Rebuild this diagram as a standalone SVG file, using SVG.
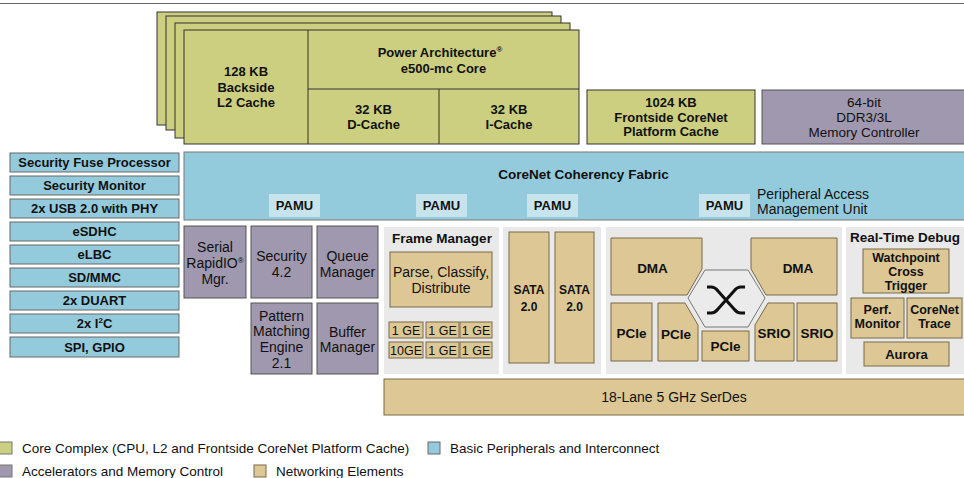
<svg xmlns="http://www.w3.org/2000/svg" width="964" height="478" viewBox="0 0 964 478">
<style>
.core{fill:#cccf7f;stroke:#333;stroke-width:1}
.blue{fill:#94cbdc;stroke:#666;stroke-width:1}
.fab{fill:#94cbdc;stroke:#777;stroke-width:1}
.pamu{fill:#c7e4ed}
.acc{fill:#a098ae;stroke:#555;stroke-width:1}
.net{fill:#dcc795;stroke:#7a6a48;stroke-width:1}
.panel{fill:#e9e9e9}
.hex{fill:#ebebeb;stroke:#777;stroke-width:1}
text{font-family:"Liberation Sans",Arial,sans-serif;fill:#111}
.b{font-weight:bold;font-size:13.5px;text-anchor:middle}
.b13{font-weight:bold;font-size:13px;text-anchor:middle}
.b125{font-weight:bold;font-size:12.5px;text-anchor:middle}
.r{font-size:14px;text-anchor:middle}
.r135{font-size:13.5px;text-anchor:middle}
.rs{font-size:14px}
.ge{font-size:12.5px;text-anchor:middle}
.sata{font-weight:bold;font-size:12px;text-anchor:middle}
.leg{font-size:13.5px}
.sup{font-size:8px}
</style>
<rect width="964" height="478" fill="#fff"/>
<line x1="0" y1="3.5" x2="964" y2="3.5" stroke="#666" stroke-width="1.2"/>

<g id="core-complex">
  <rect class="core" x="157" y="12" width="395" height="113"/>
  <rect class="core" x="166" y="16" width="395" height="114"/>
  <rect class="core" x="175" y="23" width="395" height="115"/>
  <rect class="core" x="184" y="30" width="395" height="114"/>
  <line x1="308" y1="30" x2="308" y2="144" stroke="#333"/>
  <line x1="308" y1="89" x2="579" y2="89" stroke="#333"/>
  <line x1="439" y1="89" x2="439" y2="144" stroke="#333"/>
  <g id="l2-cache">
    <text class="b13" x="246" y="76">128 KB<tspan x="246" dy="15.5">Backside</tspan><tspan x="246" dy="15.5">L2 Cache</tspan></text>
  </g>
  <g id="e500-core">
    <text class="b13" x="440" y="57">Power Architecture<tspan class="sup" dy="-5">®</tspan><tspan x="443.5" dy="21">e500-mc Core</tspan></text>
  </g>
  <g id="d-cache">
    <text class="b13" x="373.5" y="113.5">32 KB<tspan x="373.5" dy="15.5">D-Cache</tspan></text>
  </g>
  <g id="i-cache">
    <text class="b13" x="509" y="113.5">32 KB<tspan x="509" dy="15.5">I-Cache</tspan></text>
  </g>
</g>

<g id="platform-cache">
  <rect class="core" x="587" y="90" width="168" height="54"/>
  <text class="b13" x="671" y="107">1024 KB<tspan x="671" dy="14.6">Frontside CoreNet</tspan><tspan x="671" dy="14.6">Platform Cache</tspan></text>
</g>

<g id="memory-controller">
  <rect class="acc" x="762" y="90" width="210" height="54"/>
  <text class="r135" x="864" y="107">64-bit<tspan x="864" dy="15.2">DDR3/3L</tspan><tspan x="864" dy="15.2">Memory Controller</tspan></text>
</g>

<g id="corenet-fabric">
  <rect class="fab" x="184" y="152" width="790" height="68"/>
  <text class="b" x="583.5" y="179">CoreNet Coherency Fabric</text>
  <rect class="pamu" x="269" y="194" width="51" height="23"/>
  <text class="b13" x="294.5" y="209.5">PAMU</text>
  <rect class="pamu" x="416" y="194" width="51" height="23"/>
  <text class="b13" x="441.5" y="209.5">PAMU</text>
  <rect class="pamu" x="527" y="194" width="51" height="23"/>
  <text class="b13" x="552.5" y="209.5">PAMU</text>
  <rect class="pamu" x="699" y="194" width="51" height="23"/>
  <text class="b13" x="724.5" y="209.5">PAMU</text>
  <text class="rs" x="757" y="198.5">Peripheral Access<tspan x="757" dy="15.8">Management Unit</tspan></text>
</g>

<g id="basic-peripherals">
  <g id="sfp"><rect class="blue" x="10" y="153" width="169" height="19"/><text class="b13" x="94.5" y="167">Security Fuse Processor</text></g>
  <g id="sec-monitor"><rect class="blue" x="10" y="176" width="169" height="19"/><text class="b13" x="94.5" y="190">Security Monitor</text></g>
  <g id="usb"><rect class="blue" x="10" y="199" width="169" height="19"/><text class="b13" x="94.5" y="213">2x USB 2.0 with PHY</text></g>
  <g id="esdhc"><rect class="blue" x="10" y="222" width="169" height="19"/><text class="b13" x="94.5" y="236">eSDHC</text></g>
  <g id="elbc"><rect class="blue" x="10" y="245" width="169" height="19"/><text class="b13" x="94.5" y="259">eLBC</text></g>
  <g id="sdmmc"><rect class="blue" x="10" y="268" width="169" height="19"/><text class="b13" x="94.5" y="282">SD/MMC</text></g>
  <g id="duart"><rect class="blue" x="10" y="291" width="169" height="19"/><text class="b13" x="94.5" y="305">2x DUART</text></g>
  <g id="i2c"><rect class="blue" x="10" y="314" width="169" height="19"/><text class="b13" x="94.5" y="328">2x I<tspan class="sup" dy="-5">2</tspan><tspan dy="5">C</tspan></text></g>
  <g id="spi-gpio"><rect class="blue" x="10" y="337" width="169" height="20"/><text class="b13" x="94.5" y="351.5">SPI, GPIO</text></g>
</g>

<g id="srio-mgr">
  <rect class="acc" x="184" y="226" width="62" height="72"/>
  <text class="r" x="215" y="252">Serial<tspan x="215" dy="15.8">RapidIO</tspan><tspan class="sup" dy="-5">®</tspan><tspan x="215" dy="20.8">Mgr.</tspan></text>
</g>
<g id="security">
  <rect class="acc" x="251" y="226" width="61" height="72"/>
  <text class="r" x="281.5" y="261">Security<tspan x="281.5" dy="15.8">4.2</tspan></text>
</g>
<g id="queue-manager">
  <rect class="acc" x="317" y="226" width="61" height="72"/>
  <text class="r" x="347.5" y="261">Queue<tspan x="347.5" dy="15.8">Manager</tspan></text>
</g>
<g id="pattern-engine">
  <rect class="acc" x="251" y="303" width="61" height="71"/>
  <text class="r" x="281.5" y="320.5">Pattern<tspan x="281.5" dy="15.8">Matching</tspan><tspan x="281.5" dy="15.8">Engine</tspan><tspan x="281.5" dy="15.8">2.1</tspan></text>
</g>
<g id="buffer-manager">
  <rect class="acc" x="317" y="303" width="61" height="71"/>
  <text class="r" x="347.5" y="336.5">Buffer<tspan x="347.5" dy="15.8">Manager</tspan></text>
</g>

<g id="frame-manager">
  <rect class="panel" x="384" y="227" width="115" height="147"/>
  <text class="b" x="442" y="243">Frame Manager</text>
  <g id="parse">
    <rect class="net" x="390" y="252" width="102" height="55"/>
    <text class="r" x="441" y="276.5">Parse, Classify,<tspan x="441" dy="16.5">Distribute</tspan></text>
  </g>
  <g id="ge-ports">
    <rect class="net" x="389" y="322" width="34" height="16"/><text class="ge" x="406" y="334.5">1 GE</text>
    <rect class="net" x="426" y="322" width="33" height="16"/><text class="ge" x="442.5" y="334.5">1 GE</text>
    <rect class="net" x="460" y="322" width="32" height="16"/><text class="ge" x="476" y="334.5">1 GE</text>
    <rect class="net" x="389" y="342" width="34" height="16"/><text class="ge" x="406" y="354.5">10GE</text>
    <rect class="net" x="426" y="342" width="33" height="16"/><text class="ge" x="442.5" y="354.5">1 GE</text>
    <rect class="net" x="460" y="342" width="32" height="16"/><text class="ge" x="476" y="354.5">1 GE</text>
  </g>
</g>

<g id="sata-panel">
  <rect class="panel" x="503" y="227" width="98" height="147"/>
  <g id="sata1">
    <rect class="net" x="509" y="232" width="40" height="131"/>
    <text class="sata" x="529" y="294">SATA<tspan x="529" dy="17">2.0</tspan></text>
  </g>
  <g id="sata2">
    <rect class="net" x="555" y="232" width="39" height="131"/>
    <text class="sata" x="574.5" y="294">SATA<tspan x="574.5" dy="17">2.0</tspan></text>
  </g>
</g>

<g id="io-panel">
  <rect class="panel" x="606" y="227" width="236" height="147"/>
  <g id="crossbar">
    <polygon class="hex" points="688,298 705,270 748,270 765,298 748,327 705,327"/>
    <path d="M707,287 H711 Q715,287 718,291 L734,309 Q737,313 741,313 H745 M745,287 H741 Q737,287 734,291 L718,309 Q715,313 711,313 H707" fill="none" stroke="#111" stroke-width="3"/>
  </g>
  <g id="dma1">
    <polygon class="net" points="611,238 702,238 702,269 687,295 611,295"/>
    <text class="b" x="652.5" y="272.5">DMA</text>
  </g>
  <g id="dma2">
    <polygon class="net" points="751,238 837,238 837,295 766,295 751,269"/>
    <text class="b" x="798" y="272.5">DMA</text>
  </g>
  <g id="pcie1">
    <rect class="net" x="611" y="303" width="41" height="58"/>
    <text class="b" x="631.5" y="338">PCIe</text>
  </g>
  <g id="pcie2">
    <polygon class="net" points="658,303 685,303 698,325 698,361 658,361"/>
    <text class="b" x="676" y="339">PCIe</text>
  </g>
  <g id="pcie3">
    <rect class="net" x="702" y="331" width="47" height="30"/>
    <text class="b" x="725.5" y="351">PCIe</text>
  </g>
  <g id="srio1">
    <polygon class="net" points="768,303 794,303 794,361 755,361 755,325"/>
    <text class="b" x="774" y="338">SRIO</text>
  </g>
  <g id="srio2">
    <rect class="net" x="797" y="303" width="40" height="58"/>
    <text class="b" x="817" y="338">SRIO</text>
  </g>
</g>

<g id="debug-panel">
  <rect class="panel" x="846" y="227" width="124" height="147"/>
  <text class="b" x="850" y="242" style="text-anchor:start">Real-Time Debug</text>
  <g id="watchpoint">
    <rect class="net" x="863" y="249" width="86" height="44"/>
    <text class="b125" x="906" y="262">Watchpoint<tspan x="906" dy="14.2">Cross</tspan><tspan x="906" dy="14.2">Trigger</tspan></text>
  </g>
  <g id="perf-monitor">
    <rect class="net" x="851" y="298" width="53" height="40"/>
    <text class="b125" x="877.5" y="313.5">Perf.<tspan x="877.5" dy="14.2">Monitor</tspan></text>
  </g>
  <g id="corenet-trace">
    <rect class="net" x="907" y="298" width="55" height="40"/>
    <text class="b125" x="934.5" y="313.5">CoreNet<tspan x="934.5" dy="14.2">Trace</tspan></text>
  </g>
  <g id="aurora">
    <rect class="net" x="864" y="342" width="85" height="24"/>
    <text class="b13" x="906.5" y="359">Aurora</text>
  </g>
</g>

<g id="serdes">
  <rect class="net" x="384" y="379" width="590" height="36"/>
  <text class="r" x="674" y="402">18-Lane 5 GHz SerDes</text>
</g>

<g id="legend">
  <rect class="core" x="-1" y="442" width="13" height="12" style="stroke:#777"/>
  <text class="leg" x="22" y="452.5">Core Complex (CPU, L2 and Frontside CoreNet Platform Cache)</text>
  <rect class="blue" x="428" y="442" width="12" height="12"/>
  <text class="leg" x="450" y="452.5">Basic Peripherals and Interconnect</text>
  <rect class="acc" x="-1" y="465" width="13" height="12" style="stroke:#777"/>
  <text class="leg" x="22" y="475.5">Accelerators and Memory Control</text>
  <rect class="net" x="254" y="465" width="12" height="12"/>
  <text class="leg" x="276" y="475.5">Networking Elements</text>
</g>
</svg>
